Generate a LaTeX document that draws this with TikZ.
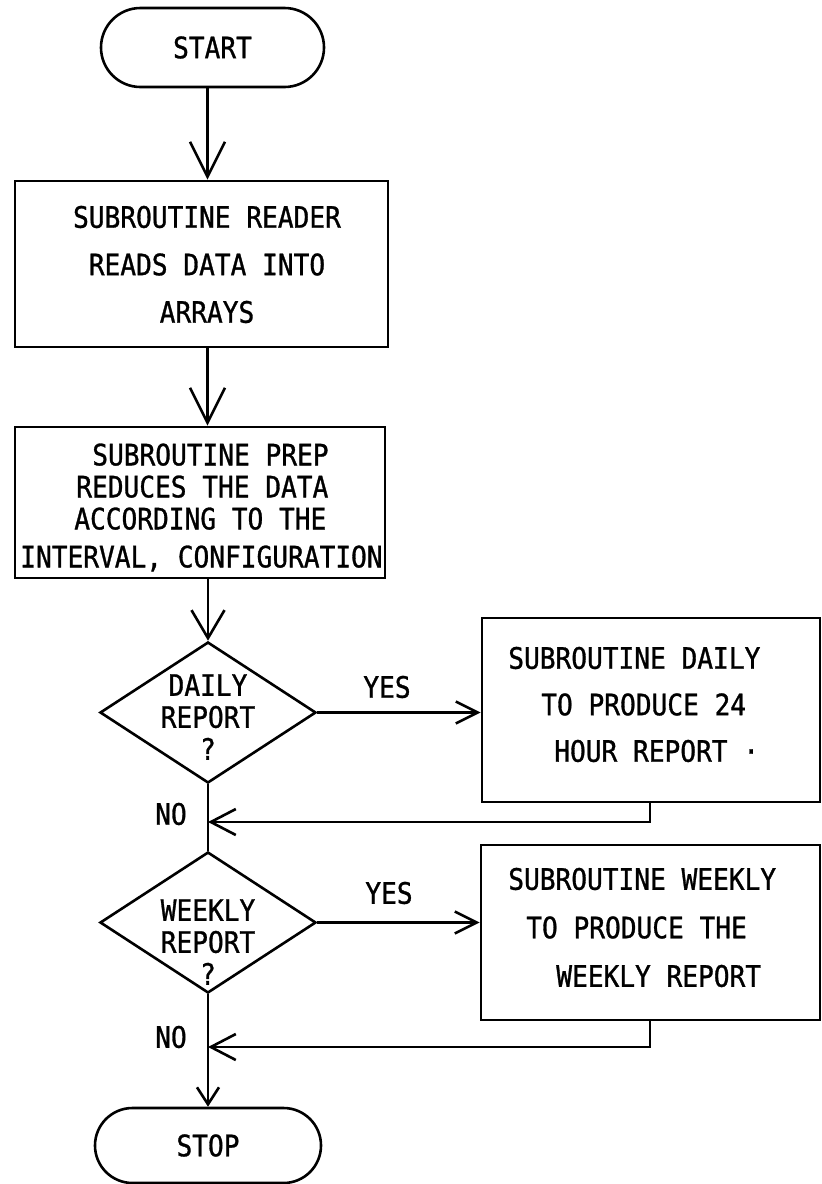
\documentclass[tikz,border=0pt]{standalone}
\usepackage{fontspec}
\newfontfamily\plotfont[FakeStretch=0.887,FakeBold=1]{DejaVu Sans Mono}
\usetikzlibrary{arrows.meta,shapes.geometric,shapes.misc}
\begin{document}
\begin{tikzpicture}[x=1pt,y=-1pt,line width=2.6pt,
  every node/.style={inner sep=0pt},
  lbl/.style={font=\plotfont\fontsize{29.5}{32}\selectfont},
  proc/.style={draw,rectangle},
  term/.style={draw,rounded rectangle,font=\plotfont\fontsize{29.5}{32}\selectfont},
  decision/.style={draw,diamond,minimum width=216pt,minimum height=141pt},
  arrA/.style={-{Straight Barb[length=35pt,width=35pt]}},
  arrC/.style={-{Straight Barb[length=28pt,width=33pt]}},
  arrY/.style={-{Straight Barb[length=22pt,width=22pt]}},
  arrR/.style={-{Straight Barb[length=25pt,width=26pt]}},
  arrS/.style={-{Straight Barb[length=17pt,width=22pt]}}]
\useasboundingbox (0,0) rectangle (822,1184);
\coordinate (ax) at (207.5,0);
% terminals
\node[term,minimum width=223pt,minimum height=79pt] (start) at (212.5,47.5) {START};
\node[term,minimum width=226pt,minimum height=75pt] (stop) at (208,1145.5) {STOP};
% left boxes
\node[proc,minimum width=373pt,minimum height=166pt] (box1) at (201.5,264) {};
\node[lbl,align=center] (t1) at (207,264.5) {SUBROUTINE READER\\[15.5pt]READS DATA INTO\\[15.5pt]ARRAYS};
\node[proc,minimum width=370pt,minimum height=151pt] (box2) at (200,502.5) {};
\node[lbl,align=left,anchor=west] (t2) at (19,507.5) {\hspace*{72pt}SUBROUTINE PREP\\\hspace*{56pt}REDUCES THE DATA\\\hspace*{54pt}ACCORDING TO THE\\[6pt]INTERVAL, CONFIGURATION};
% decisions
\node[decision] (ddec) at (208,712.5) {};
\node[lbl,align=center] (dq) at (208,717) {DAILY\\REPORT\\?};
\node[decision] (wdec) at (208,922.5) {};
\node[lbl,align=center] (wq) at (208,942) {WEEKLY\\REPORT\\?};
% right boxes
\node[proc,minimum width=338pt,minimum height=184pt] (dbox) at (651,710) {};
\node[lbl,align=left,anchor=west] (dt) at (507,704.5) {SUBROUTINE DAILY\\[14.5pt]\hspace*{33pt}TO PRODUCE 24\\[14.5pt]\hspace*{46pt}HOUR REPORT ·};
\node[proc,minimum width=339pt,minimum height=175pt] (wbox) at (650.5,932.5) {};
\node[lbl,align=left,anchor=west] (wt) at (507,927.5) {SUBROUTINE WEEKLY\\[16.5pt]\hspace*{18pt}TO PRODUCE THE\\[16.5pt]\hspace*{48pt}WEEKLY REPORT};
% labels
\node[lbl] (yes1) at (387,687) {YES};
\node[lbl] (yes2) at (389,893) {YES};
\node[lbl] (no1) at (171,814) {NO};
\node[lbl] (no2) at (171,1037) {NO};
% connectors
\draw[arrA] (start.south -| ax) -- (box1.north -| ax);
\draw[arrA] (box1.south -| ax) -- (box2.north -| ax);
\draw[arrC] (box2.south -| ddec.north) -- (ddec.north);
\draw[arrY] (ddec.east) -- (dbox.west |- ddec.east);
\draw (ddec.south) -- (wdec.north);
\coordinate (dret) at (650,822);
\draw[arrR] (dbox.south -| dret) -- (dret) -- (dret -| ddec.south);
\draw[arrY] (wdec.east) -- (wbox.west |- wdec.east);
\coordinate (wret) at (650,1047);
\draw[arrR] (wbox.south -| wret) -- (wret) -- (wret -| wdec.south);
\draw[arrS] (wdec.south) -- (stop.north -| wdec.south);
\end{tikzpicture}
\end{document}
